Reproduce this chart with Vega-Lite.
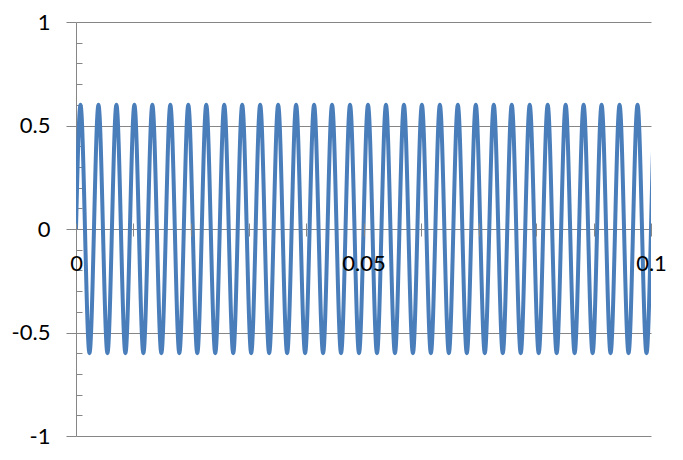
{
  "$schema": "https://vega.github.io/schema/vega-lite/v6.json",
  "width": 575,
  "height": 414,
  "autosize": {"type": "none"},
  "padding": {"left": 76, "top": 22, "right": 32, "bottom": 24},
  "background": "#ffffff",
  "config": {
    "view": {"stroke": null},
    "font": "Lato",
    "axis": {"labelFont": "Lato", "labelFontSize": 22, "labelColor": "#000000", "titleFont": "Lato"}
  },
  "data": {
    "values": [
      {"t": 0, "v": 0}, {"t": 0.00078125, "v": 0.6}, {"t": 0.0015625, "v": 0}, {"t": 0.00234375, "v": -0.6},
      {"t": 0.003125, "v": 0}, {"t": 0.00390625, "v": 0.6}, {"t": 0.0046875, "v": 0}, {"t": 0.00546875, "v": -0.6},
      {"t": 0.00625, "v": 0}, {"t": 0.00703125, "v": 0.6}, {"t": 0.0078125, "v": 0}, {"t": 0.00859375, "v": -0.6},
      {"t": 0.009375, "v": 0}, {"t": 0.01015625, "v": 0.6}, {"t": 0.0109375, "v": 0}, {"t": 0.01171875, "v": -0.6},
      {"t": 0.0125, "v": 0}, {"t": 0.01328125, "v": 0.6}, {"t": 0.0140625, "v": 0}, {"t": 0.01484375, "v": -0.6},
      {"t": 0.015625, "v": 0}, {"t": 0.01640625, "v": 0.6}, {"t": 0.0171875, "v": 0}, {"t": 0.01796875, "v": -0.6},
      {"t": 0.01875, "v": 0}, {"t": 0.01953125, "v": 0.6}, {"t": 0.0203125, "v": 0}, {"t": 0.02109375, "v": -0.6},
      {"t": 0.021875, "v": 0}, {"t": 0.02265625, "v": 0.6}, {"t": 0.0234375, "v": 0}, {"t": 0.02421875, "v": -0.6},
      {"t": 0.025, "v": 0}, {"t": 0.02578125, "v": 0.6}, {"t": 0.0265625, "v": 0}, {"t": 0.02734375, "v": -0.6},
      {"t": 0.028125, "v": 0}, {"t": 0.02890625, "v": 0.6}, {"t": 0.0296875, "v": 0}, {"t": 0.03046875, "v": -0.6},
      {"t": 0.03125, "v": 0}, {"t": 0.03203125, "v": 0.6}, {"t": 0.0328125, "v": 0}, {"t": 0.03359375, "v": -0.6},
      {"t": 0.034375, "v": 0}, {"t": 0.03515625, "v": 0.6}, {"t": 0.0359375, "v": 0}, {"t": 0.03671875, "v": -0.6},
      {"t": 0.0375, "v": 0}, {"t": 0.03828125, "v": 0.6}, {"t": 0.0390625, "v": 0}, {"t": 0.03984375, "v": -0.6},
      {"t": 0.040625, "v": 0}, {"t": 0.04140625, "v": 0.6}, {"t": 0.0421875, "v": 0}, {"t": 0.04296875, "v": -0.6},
      {"t": 0.04375, "v": 0}, {"t": 0.04453125, "v": 0.6}, {"t": 0.0453125, "v": 0}, {"t": 0.04609375, "v": -0.6},
      {"t": 0.046875, "v": 0}, {"t": 0.04765625, "v": 0.6}, {"t": 0.0484375, "v": 0}, {"t": 0.04921875, "v": -0.6},
      {"t": 0.05, "v": 0}, {"t": 0.05078125, "v": 0.6}, {"t": 0.0515625, "v": 0}, {"t": 0.05234375, "v": -0.6},
      {"t": 0.053125, "v": 0}, {"t": 0.05390625, "v": 0.6}, {"t": 0.0546875, "v": 0}, {"t": 0.05546875, "v": -0.6},
      {"t": 0.05625, "v": 0}, {"t": 0.05703125, "v": 0.6}, {"t": 0.0578125, "v": 0}, {"t": 0.05859375, "v": -0.6},
      {"t": 0.059375, "v": 0}, {"t": 0.06015625, "v": 0.6}, {"t": 0.0609375, "v": 0}, {"t": 0.06171875, "v": -0.6},
      {"t": 0.0625, "v": 0}, {"t": 0.06328125, "v": 0.6}, {"t": 0.0640625, "v": 0}, {"t": 0.06484375, "v": -0.6},
      {"t": 0.065625, "v": 0}, {"t": 0.06640625, "v": 0.6}, {"t": 0.0671875, "v": 0}, {"t": 0.06796875, "v": -0.6},
      {"t": 0.06875, "v": 0}, {"t": 0.06953125, "v": 0.6}, {"t": 0.0703125, "v": 0}, {"t": 0.07109375, "v": -0.6},
      {"t": 0.071875, "v": 0}, {"t": 0.07265625, "v": 0.6}, {"t": 0.0734375, "v": 0}, {"t": 0.07421875, "v": -0.6},
      {"t": 0.075, "v": 0}, {"t": 0.07578125, "v": 0.6}, {"t": 0.0765625, "v": 0}, {"t": 0.07734375, "v": -0.6},
      {"t": 0.078125, "v": 0}, {"t": 0.07890625, "v": 0.6}, {"t": 0.0796875, "v": 0}, {"t": 0.08046875, "v": -0.6},
      {"t": 0.08125, "v": 0}, {"t": 0.08203125, "v": 0.6}, {"t": 0.0828125, "v": 0}, {"t": 0.08359375, "v": -0.6},
      {"t": 0.084375, "v": 0}, {"t": 0.08515625, "v": 0.6}, {"t": 0.0859375, "v": 0}, {"t": 0.08671875, "v": -0.6},
      {"t": 0.0875, "v": 0}, {"t": 0.08828125, "v": 0.6}, {"t": 0.0890625, "v": 0}, {"t": 0.08984375, "v": -0.6},
      {"t": 0.090625, "v": 0}, {"t": 0.09140625, "v": 0.6}, {"t": 0.0921875, "v": 0}, {"t": 0.09296875, "v": -0.6},
      {"t": 0.09375, "v": 0}, {"t": 0.09453125, "v": 0.6}, {"t": 0.0953125, "v": 0}, {"t": 0.09609375, "v": -0.6},
      {"t": 0.096875, "v": 0}, {"t": 0.09765625, "v": 0.6}, {"t": 0.0984375, "v": 0}, {"t": 0.09921875, "v": -0.6},
      {"t": 0.1, "v": 0}, {"t": 0.10078125, "v": 0.6}, {"t": 0.1015625, "v": 0}
    ]
  },
  "layer": [
    {
      "mark": {"type": "line", "color": "#4A7EBB", "strokeWidth": 4, "interpolate": "natural", "clip": true},
      "encoding": {
        "x": {
          "field": "t", "type": "quantitative",
          "scale": {"domain": [0, 0.1], "nice": false, "zero": false},
          "axis": {
            "title": null,
            "orient": "bottom",
            "offset": -213,
            "zindex": 1,
            "values": [0, 0.01, 0.02, 0.03, 0.04, 0.05, 0.06, 0.07, 0.08, 0.09, 0.1],
            "labelExpr": "datum.value == 0 || datum.value == 0.05 || datum.value == 0.1 ? '' + datum.value : ''",
            "labelFlush": false,
            "labelOverlap": false,
            "labelPadding": 17,
            "labelBaseline": "top",
            "domain": false,
            "grid": false,
            "ticks": true,
            "tickSize": 13,
            "tickColor": "#868686",
            "tickWidth": 1
          }
        },
        "y": {
          "field": "v", "type": "quantitative",
          "scale": {"domain": [-1, 1], "nice": false, "zero": false},
          "axis": {
            "title": null,
            "orient": "left",
            "values": [-1, -0.5, 0, 0.5, 1],
            "labelExpr": "'' + datum.value",
            "grid": true,
            "gridColor": "#868686",
            "gridWidth": 1,
            "gridOpacity": 1,
            "domain": true,
            "domainColor": "#868686",
            "domainWidth": 1,
            "tickColor": "#868686",
            "tickSize": 10,
            "tickWidth": 1,
            "labelPadding": 16,
            "labelBaseline": "middle",
            "labelOverlap": false,
            "labelFlush": false
          }
        }
      }
    },
    {
      "mark": {"type": "point", "opacity": 0},
      "encoding": {
        "y": {
          "field": "v", "type": "quantitative",
          "axis": {
            "title": null,
            "orient": "left",
            "values": [-0.9, -0.8, -0.7, -0.6, -0.4, -0.3, -0.2, -0.1, 0.1, 0.2, 0.3, 0.4, 0.6, 0.7, 0.8, 0.9],
            "labels": false,
            "grid": false,
            "domain": false,
            "ticks": true,
            "tickSize": -6,
            "tickColor": "#868686",
            "tickWidth": 1
          }
        }
      }
    }
  ],
  "resolve": {"axis": {"y": "independent"}}
}
